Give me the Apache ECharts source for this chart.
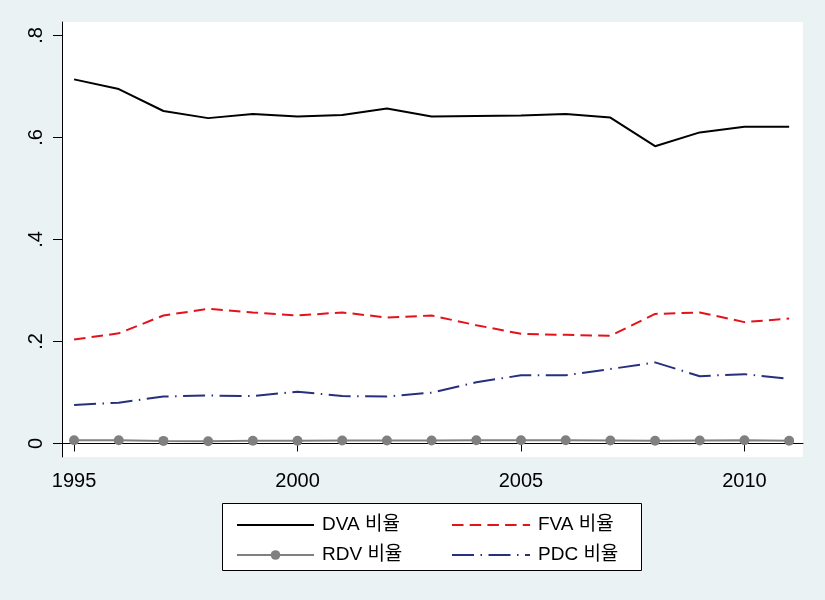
<!DOCTYPE html>
<html>
<head>
<meta charset="utf-8">
<script src="https://cdn.jsdelivr.net/npm/echarts@6/dist/echarts.min.js"></script>
<style>
html,body{margin:0;padding:0;background:#EAF2F3;}
#chart{width:825px;height:600px;}
</style>
</head>
<body>
<div id="chart"></div>
<script>
const years = [1995,1996,1997,1998,1999,2000,2001,2002,2003,2004,2005,2006,2007,2008,2009,2010,2011];
const dva = [0.714,0.695,0.652,0.638,0.646,0.641,0.644,0.657,0.641,0.642,0.643,0.646,0.639,0.583,0.610,0.621,0.621];
const fva = [0.204,0.216,0.251,0.264,0.257,0.251,0.257,0.247,0.251,0.232,0.215,0.213,0.211,0.254,0.257,0.238,0.245];
const rdv = [0.0063,0.0065,0.0051,0.0045,0.0055,0.0055,0.0058,0.0058,0.0058,0.0065,0.0065,0.0062,0.0058,0.0055,0.0058,0.0062,0.0055];
const pdc = [0.0755,0.080,0.092,0.094,0.093,0.1016,0.093,0.092,0.0997,0.120,0.1337,0.1337,0.146,0.159,0.132,0.136,0.1265];
const xTicks = [1995,2000,2005,2010];
const yTicks = [0,0.2,0.4,0.6,0.8];
const names = ['DVA 비율','FVA 비율','RDV 비율','PDC 비율'];

const pair = arr => years.map((y,i)=>[y,arr[i]]);
const font = 'Liberation Sans, Arial, Noto Sans CJK KR, sans-serif';
const hidden = {color:'rgba(0,0,0,0)',borderWidth:0,opacity:0};
const legendText = {fontSize:19,fontFamily:font,color:'#000',padding:[0,0,0,3],lineHeight:20};
const chart = echarts.init(document.getElementById('chart'));
chart.setOption({
  backgroundColor:'#EAF2F3',
  animation:false,
  grid:{left:62,top:22,right:22,bottom:143,show:true,backgroundColor:'#ffffff',borderWidth:0},
  xAxis:{
    type:'value',min:1994.73,max:2011.31,
    axisLine:{show:true,lineStyle:{color:'#000',width:1}},
    axisTick:{show:true,length:8,customValues:xTicks,lineStyle:{color:'#000'}},
    axisLabel:{customValues:xTicks,color:'#000',fontSize:20,fontFamily:font,margin:14,formatter:v=>String(v)},
    splitLine:{show:false}
  },
  yAxis:{
    type:'value',min:-0.0265,max:0.8265,
    axisLine:{show:true,lineStyle:{color:'#000',width:1}},
    axisTick:{show:true,length:9,customValues:yTicks,lineStyle:{color:'#000'}},
    axisLabel:{customValues:yTicks,color:'#000',fontSize:20,fontFamily:font,rotate:90,margin:16,
      formatter:v=>{ if(Math.abs(v)<1e-9) return '0'; return '.'+Math.round(v*10); }},
    splitLine:{show:false}
  },
  graphic:[{type:'rect',z:0,shape:{x:222.5,y:503.5,width:419,height:67},style:{fill:'#fff',stroke:'#000',lineWidth:1}}],
  legend:[
    {data:[{name:names[0],itemStyle:hidden},{name:names[2]}],orient:'vertical',left:231,top:510,itemWidth:77,itemHeight:12,itemGap:10,
     textStyle:legendText},
    {data:[{name:names[1],itemStyle:hidden},{name:names[3],itemStyle:hidden}],orient:'vertical',left:446,top:510,itemWidth:78,itemHeight:12,itemGap:10,
     textStyle:legendText}
  ],
  series:[
    {name:names[0],type:'line',data:pair(dva),symbol:'none',lineStyle:{color:'#000',width:2},itemStyle:{color:'#000'}},
    {name:names[1],type:'line',data:pair(fva),symbol:'none',lineStyle:{color:'#E3121B',width:2,type:[11.5,6.2]},itemStyle:{color:'#E3121B'}},
    {name:names[2],type:'line',data:pair(rdv),symbol:'circle',symbolSize:10,lineStyle:{color:'#808080',width:2},itemStyle:{color:'#808080'}},
    {name:names[3],type:'line',data:pair(pdc),symbol:'none',lineStyle:{color:'#27307D',width:2,type:[22,6.5,1.5,6.5]},itemStyle:{color:'#27307D'}}
  ]
});
</script>
</body>
</html>
